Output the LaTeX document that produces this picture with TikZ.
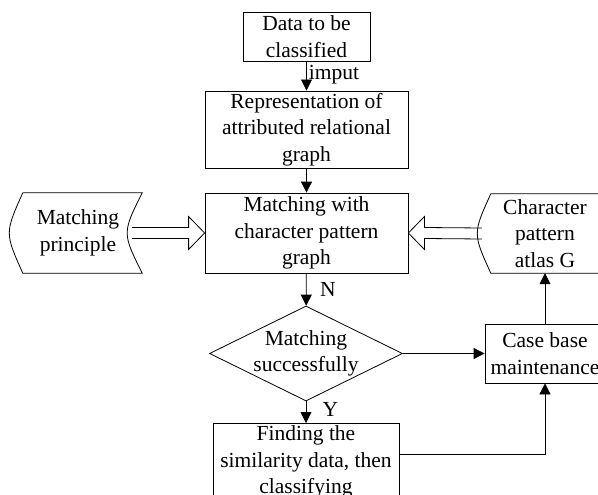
\documentclass[tikz,border=0pt]{standalone}
\usepackage{fontspec}
\setmainfont{Liberation Serif}
\usetikzlibrary{arrows.meta,calc,shapes.geometric}
\tikzset{
  box/.style={draw,line width=0.8pt,align=center,inner sep=2pt},
  store/.style={align=center,inner sep=0pt},
  flow/.style={line width=0.8pt,-{Triangle[length=11pt,width=11pt]}},
  hollow/.style={line width=0.8pt},
}
\begin{document}
\begin{tikzpicture}[x=1pt,y=-1pt,font=\fontsize{21.5}{26.7}\selectfont]
\useasboundingbox (0,0) rectangle (598,495);
% boxes
\node[box,minimum width=127pt,minimum height=49pt] (data) at (306.5,36.5) {Data to be\\classified};
\node[box,minimum width=203pt,minimum height=75pt] (rep) at (306.5,129.5) {Representation of\\attributed relational\\graph};
\node[box,minimum width=203pt,minimum height=80pt] (mw) at (306.5,233) {Matching with\\character pattern\\graph};
\node[store,minimum width=128pt,minimum height=80pt] (mp) at (78,233) {Matching\\principle};
\node[store,minimum width=126pt,minimum height=79pt] (at) at (545,233.5) {Character\\pattern\\atlas G};
\node[diamond,draw,line width=0.8pt,minimum width=193pt,minimum height=95pt,inner sep=0pt] (dec) at (306,353.5) {};
\node[align=center,inner sep=0pt] (dectext) at (dec.center) {Matching\\successfully};
\node[box,minimum width=120pt,minimum height=59pt] (case) at (545,353.5) {Case base\\maintenance};
\node[box,minimum width=186pt,anchor=north] (find) at (306,423) {Finding the\\similarity data, then\\classifying};
% stored data outlines
\foreach \n/\e in {mp/0,at/14}
  \draw[line width=0.8pt] ([xshift=9pt]\n.north west) -- ([xshift=\e pt]\n.north east)
    .. controls ([xshift=\e pt-20pt]\n.east) .. ([xshift=\e pt]\n.south east)
    -- ([xshift=9pt]\n.south west)
    .. controls ([xshift=-9pt]\n.west) .. ([xshift=9pt]\n.north west);
% hollow arrows
\draw[hollow] ($(mp.east)+(-10,-5.5)$) -- ($(mw.west)+(-16,-5.5)$) -- ++(0,-11)
  -- (mw.west) -- ($(mw.west)+(-16,16.5)$) -- ++(0,-11) -- ($(mp.east)+(-10,5.5)$);
\draw[hollow] ($(at.west)+(0,-5.5)$) -- ($(mw.east)+(16,-5.5)$) -- ++(0,-11)
  -- (mw.east) -- ($(mw.east)+(16,16.5)$) -- ++(0,-11) -- ($(at.west)+(0,5.5)$);
% connectors
\draw[flow] (data) -- node[right,inner sep=2pt,yshift=1pt] (imput) {imput} (rep);
\draw[flow] (rep) -- (mw);
\draw[flow] (mw) -- node[right,xshift=10pt] (nlab) {N} (dec);
\draw[flow] (dec) -- node[right,xshift=13pt,yshift=3pt] (ylab) {Y} (find);
\draw[flow] (dec.east) -- (case.west);
\draw[flow] (case.north) -- (case.north |- at.south);
\coordinate (fout) at ($(find.north east)+(0,31)$);
\draw[flow] (fout) -| (case.south);
\end{tikzpicture}
\end{document}
